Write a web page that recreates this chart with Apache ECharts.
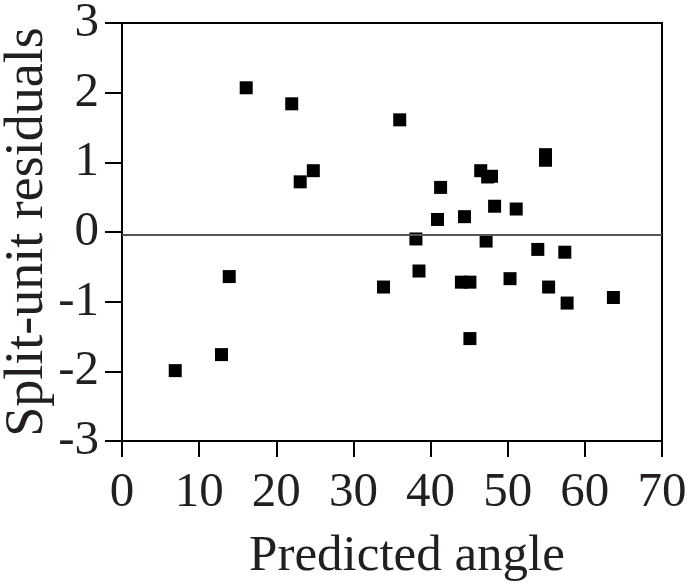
<!DOCTYPE html>
<html><head><meta charset="utf-8">
<script src="https://cdn.jsdelivr.net/npm/echarts@6/dist/echarts.min.js"></script>
<style>html,body{margin:0;padding:0;background:#fff}#c{width:690px;height:583px}</style>
</head><body><div id="c"></div>
<script>
const predictedAngle = [6.9,12.9,13.9,16.1,22.0,23.1,24.8,33.9,36.0,38.1,38.5,40.9,41.3,44.4,44.0,45.1,45.1,46.5,47.2,47.4,47.9,48.3,51.1,50.3,53.9,54.9,54.9,55.3,57.4,57.7,63.7];
const residuals = [-1.99,-1.76,-0.64,2.07,1.84,0.72,0.88,-0.79,1.61,-0.10,-0.56,0.18,0.64,0.22,-0.72,-0.72,-1.53,0.88,-0.13,0.79,0.80,0.37,0.33,-0.67,-0.25,1.11,1.03,-0.79,-0.29,-1.02,-0.94];
const zeroLine = -0.04;
const xTicks = {min:0,max:70,interval:10};
const yTicks = {min:-3,max:3,interval:1};

const font = '"Liberation Serif","DejaVu Serif",serif';
const chart = echarts.init(document.getElementById('c'));
chart.setOption({
  animation:false,
  grid:{left:122,right:28,top:23,bottom:142,show:true,borderColor:'#000',borderWidth:2,containLabel:false,outerBoundsMode:'none'},
  xAxis:{type:'value',min:xTicks.min,max:xTicks.max,interval:xTicks.interval,
    name:'Predicted angle',nameLocation:'middle',nameGap:90,
    nameTextStyle:{fontFamily:font,fontSize:51,color:'#231f20',padding:[0,0,0,30]},
    axisLine:{show:true,onZero:false,lineStyle:{color:'#000',width:2}},
    axisTick:{show:true,length:16,lineStyle:{color:'#000',width:2}},
    axisLabel:{fontFamily:font,fontSize:49,color:'#231f20',margin:28},
    splitLine:{show:false}},
  yAxis:{type:'value',min:yTicks.min,max:yTicks.max,interval:yTicks.interval,
    name:'Split-unit residuals',nameLocation:'middle',nameGap:67,nameRotate:90,nameMoveOverlap:false,
    nameTextStyle:{fontFamily:font,fontSize:54,color:'#231f20'},
    axisLine:{show:true,onZero:false,lineStyle:{color:'#000',width:2}},
    axisTick:{show:true,length:17,lineStyle:{color:'#000',width:2}},
    axisLabel:{fontFamily:font,fontSize:49,color:'#231f20',margin:23},
    splitLine:{show:false}},
  series:[{type:'scatter',symbol:'rect',symbolSize:13,
    itemStyle:{color:'#000',opacity:1},
    data:predictedAngle.map((x,i)=>[x,residuals[i]]),
    markLine:{silent:true,symbol:'none',label:{show:false},
      lineStyle:{color:'#555',width:2,type:'solid'},
      data:[{yAxis:zeroLine}]}}]
});
</script></body></html>
